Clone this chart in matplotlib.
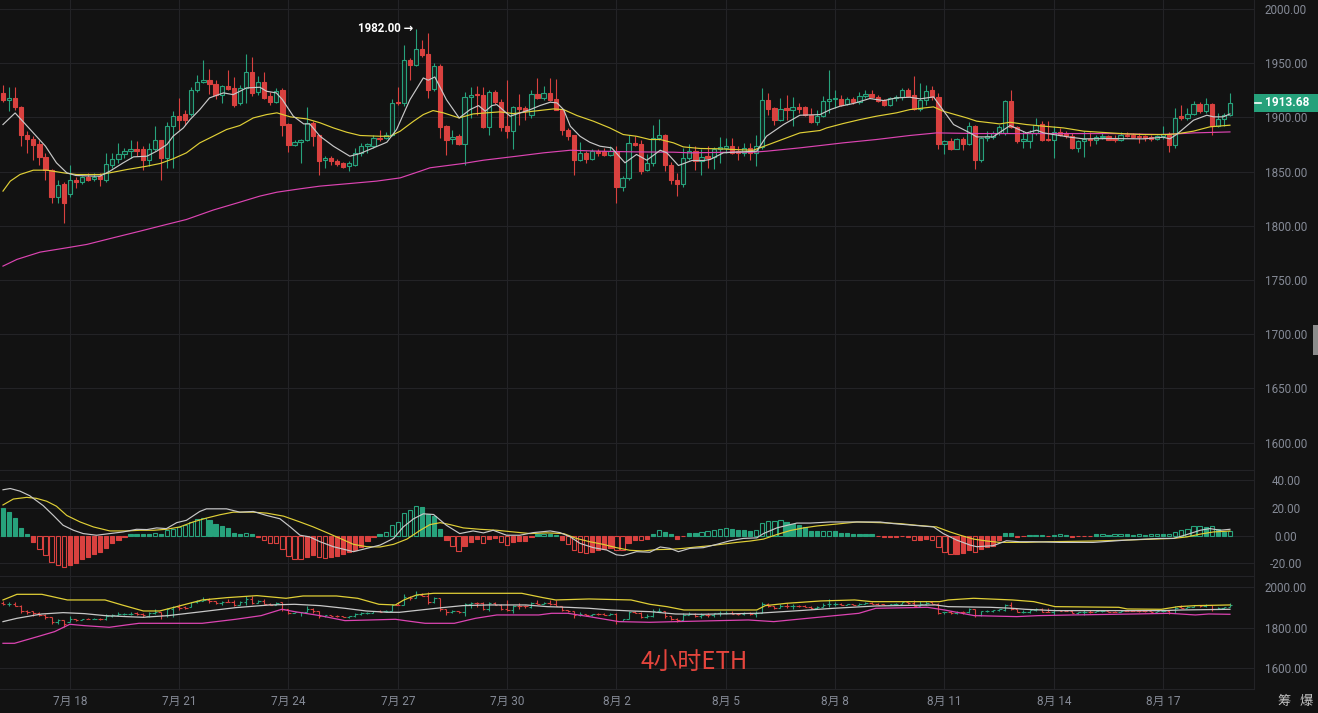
import matplotlib
matplotlib.use("Agg")
import matplotlib.pyplot as plt
import matplotlib.transforms as mtransforms
from matplotlib.patches import Rectangle
import numpy as np
import pandas as pd

plt.rcParams['font.family'] = ['Roboto', 'Noto Sans CJK SC', 'DejaVu Sans']

BG = '#121212'
HOLLOW = '#15211d'
GRID = '#232326'
UP = '#27a27c'
DOWN = '#d9413f'
TXT = '#858a96'
C_WHITE = '#c8c8c8'
C_YELLOW = '#e0cf36'
C_PINK = '#dc44b2'

# 4h ETH candles, first bar 7/16 04:00
first_bar = '2023-07-16 04:00'

opens = [
    1922.6, 1916.4, 1918.0, 1909.7, 1884.2, 1880.5, 1875.0, 1863.6, 1851.6, 1826.4,
    1838.1, 1829.5, 1842.7, 1840.3, 1845.2, 1843.3, 1845.8, 1842.7, 1856.5, 1861.8,
    1866.4, 1868.8, 1871.0, 1870.4, 1860.5, 1871.0, 1878.7, 1862.7, 1892.5, 1901.7,
    1903.2, 1903.2, 1925.7, 1933.0, 1934.9, 1931.2, 1921.0, 1929.3, 1927.2, 1913.4,
    1927.2, 1942.2, 1923.2, 1933.0, 1919.5, 1914.0, 1925.0, 1894.0, 1874.3, 1877.4,
    1879.3, 1895.0, 1883.3, 1860.5, 1862.7, 1860.2, 1858.1, 1855.0, 1856.5, 1866.7,
    1873.4, 1873.4, 1881.1, 1881.1, 1884.2, 1914.6, 1913.4, 1953.3, 1948.4, 1963.1,
    1958.8, 1926.3, 1947.8, 1891.9, 1880.2, 1882.7, 1875.6, 1918.9, 1921.7, 1921.0,
    1891.0, 1923.5, 1914.6, 1891.9, 1887.9, 1909.7, 1908.8, 1902.6, 1921.7, 1917.7,
    1922.6, 1917.4, 1907.2, 1888.8, 1883.3, 1861.1, 1867.3, 1861.8, 1868.8, 1868.8,
    1865.1, 1868.8, 1835.9, 1844.2, 1876.5, 1875.0, 1851.3, 1857.5, 1881.1, 1884.2,
    1856.5, 1842.7, 1838.1, 1862.7, 1869.4, 1859.6, 1864.2, 1863.6, 1871.3, 1871.9,
    1874.0, 1868.8, 1866.7, 1871.9, 1867.3, 1872.8, 1916.4, 1908.5, 1898.0, 1908.5,
    1906.6, 1909.7, 1909.4, 1902.6, 1895.5, 1901.1, 1915.5, 1917.1, 1917.1, 1912.8,
    1917.4, 1914.0, 1919.5, 1921.7, 1918.9, 1915.8, 1911.8, 1917.7, 1918.9, 1925.7,
    1921.0, 1907.8, 1916.4, 1925.0, 1918.9, 1875.9, 1878.0, 1871.3, 1880.2, 1875.9,
    1892.5, 1861.1, 1881.1, 1881.7, 1885.7, 1885.7, 1914.9, 1891.3, 1878.0, 1878.0,
    1885.7, 1894.3, 1880.2, 1879.0, 1886.3, 1885.1, 1882.7, 1871.9, 1878.0, 1880.2,
    1879.6, 1881.7, 1882.7, 1880.2, 1878.7, 1884.2, 1884.2, 1882.7, 1882.7, 1881.7,
    1880.2, 1882.7, 1884.8, 1874.3, 1901.7, 1899.5, 1903.2, 1912.5, 1905.7, 1912.5,
    1892.5, 1898.6, 1902.6,
]
highs = [
    1930.0, 1928.1, 1928.1, 1910.9, 1887.3, 1882.7, 1879.6, 1866.7, 1852.5, 1842.7,
    1840.3, 1855.9, 1845.2, 1845.8, 1848.9, 1848.9, 1848.9, 1867.3, 1866.7, 1876.5,
    1871.9, 1879.0, 1878.0, 1873.4, 1876.5, 1891.9, 1879.6, 1895.5, 1905.7, 1918.0,
    1907.2, 1928.1, 1939.5, 1953.3, 1944.7, 1934.3, 1930.3, 1944.1, 1937.3, 1930.3,
    1958.8, 1955.8, 1937.9, 1941.6, 1923.2, 1927.2, 1927.2, 1895.0, 1879.0, 1880.2,
    1909.4, 1896.5, 1884.2, 1864.8, 1864.2, 1861.8, 1858.7, 1859.6, 1871.9, 1876.5,
    1876.5, 1883.3, 1888.2, 1886.3, 1917.1, 1928.1, 1967.1, 1954.8, 1982.0, 1971.7,
    1977.9, 1950.2, 1949.6, 1893.4, 1888.8, 1884.8, 1923.2, 1928.1, 1928.7, 1928.1,
    1925.7, 1925.0, 1917.1, 1934.9, 1910.9, 1921.7, 1910.3, 1925.7, 1936.4, 1928.7,
    1936.4, 1935.8, 1908.8, 1890.3, 1884.2, 1877.1, 1868.8, 1870.4, 1871.0, 1871.9,
    1873.4, 1873.4, 1845.8, 1884.2, 1882.7, 1879.6, 1865.8, 1893.4, 1898.6, 1885.1,
    1858.7, 1848.9, 1871.9, 1875.9, 1873.4, 1871.0, 1873.4, 1872.8, 1881.7, 1881.1,
    1881.1, 1873.4, 1876.5, 1876.5, 1884.2, 1927.2, 1922.6, 1909.7, 1918.0, 1921.0,
    1918.9, 1913.4, 1910.9, 1908.8, 1907.2, 1920.1, 1943.5, 1925.0, 1921.0, 1918.9,
    1918.9, 1923.2, 1925.7, 1925.7, 1921.0, 1917.1, 1918.9, 1921.0, 1927.2, 1927.2,
    1937.9, 1931.8, 1930.3, 1929.3, 1922.6, 1879.6, 1881.1, 1881.1, 1881.7, 1895.5,
    1893.4, 1882.0, 1887.3, 1887.3, 1893.4, 1916.4, 1925.0, 1892.5, 1887.3, 1888.8,
    1899.5, 1896.5, 1896.5, 1891.9, 1890.3, 1887.3, 1885.7, 1879.6, 1887.3, 1886.3,
    1883.3, 1886.3, 1884.2, 1884.2, 1886.3, 1886.3, 1885.7, 1885.7, 1884.2, 1883.3,
    1884.2, 1892.5, 1886.3, 1908.8, 1911.8, 1908.8, 1914.9, 1914.0, 1918.0, 1913.4,
    1904.2, 1904.2, 1922.6,
]
lows = [
    1914.0, 1905.7, 1907.2, 1873.4, 1867.3, 1860.5, 1855.9, 1842.7, 1820.6, 1820.6,
    1802.8, 1826.4, 1835.0, 1838.1, 1841.2, 1841.2, 1836.6, 1840.3, 1853.5, 1858.1,
    1862.7, 1862.7, 1864.2, 1851.3, 1855.6, 1868.8, 1842.1, 1853.5, 1853.5, 1888.8,
    1893.4, 1901.1, 1923.2, 1931.8, 1922.0, 1917.1, 1913.4, 1925.7, 1909.7, 1911.8,
    1913.4, 1919.5, 1921.0, 1917.1, 1911.8, 1913.4, 1882.7, 1868.2, 1873.4, 1858.1,
    1878.0, 1873.4, 1846.4, 1853.5, 1856.5, 1855.0, 1853.5, 1850.4, 1855.0, 1864.2,
    1867.3, 1871.9, 1878.0, 1880.2, 1882.7, 1911.8, 1910.9, 1934.9, 1947.2, 1955.8,
    1918.0, 1924.1, 1881.1, 1865.1, 1875.0, 1874.3, 1856.5, 1899.5, 1902.6, 1890.3,
    1883.3, 1912.8, 1887.3, 1881.1, 1871.3, 1893.4, 1898.0, 1899.5, 1917.1, 1916.4,
    1914.9, 1906.6, 1883.3, 1879.6, 1847.3, 1859.6, 1857.5, 1860.5, 1864.2, 1864.2,
    1864.2, 1820.6, 1832.0, 1842.7, 1873.4, 1848.2, 1850.4, 1855.0, 1879.6, 1850.4,
    1838.1, 1827.4, 1835.9, 1861.1, 1851.3, 1847.3, 1853.5, 1852.5, 1857.5, 1867.3,
    1865.8, 1861.1, 1864.2, 1861.1, 1855.0, 1871.0, 1902.6, 1893.4, 1896.5, 1898.0,
    1891.9, 1904.2, 1901.1, 1894.9, 1893.4, 1900.5, 1904.2, 1908.8, 1910.9, 1911.8,
    1912.8, 1912.8, 1918.0, 1917.7, 1914.0, 1910.9, 1910.9, 1914.9, 1916.4, 1918.9,
    1906.6, 1905.7, 1911.8, 1916.4, 1870.4, 1865.8, 1869.7, 1870.4, 1869.7, 1874.3,
    1852.5, 1858.7, 1878.0, 1880.2, 1884.2, 1884.2, 1890.3, 1876.5, 1871.9, 1871.9,
    1884.2, 1878.0, 1878.0, 1862.7, 1882.7, 1881.1, 1871.0, 1868.2, 1863.6, 1873.4,
    1875.9, 1880.2, 1879.0, 1877.4, 1878.0, 1882.0, 1881.1, 1876.5, 1878.0, 1878.0,
    1879.6, 1880.2, 1868.2, 1871.9, 1898.0, 1897.4, 1902.6, 1904.2, 1904.2, 1884.2,
    1891.3, 1891.9, 1901.1,
]
closes = [
    1915.8, 1918.0, 1909.4, 1883.6, 1880.2, 1874.3, 1863.6, 1851.9, 1826.4, 1837.8,
    1820.6, 1842.7, 1840.3, 1844.9, 1842.7, 1844.9, 1843.6, 1857.1, 1861.8, 1866.4,
    1868.8, 1870.4, 1869.4, 1861.1, 1871.0, 1878.7, 1862.7, 1892.5, 1901.7, 1897.4,
    1897.4, 1925.7, 1933.0, 1934.9, 1930.9, 1921.0, 1929.3, 1926.3, 1911.8, 1927.2,
    1942.2, 1922.6, 1932.4, 1918.0, 1914.0, 1924.1, 1893.4, 1874.3, 1877.4, 1879.3,
    1895.0, 1882.7, 1860.2, 1862.7, 1859.6, 1857.1, 1854.4, 1857.5, 1866.7, 1874.0,
    1875.0, 1881.1, 1880.2, 1884.2, 1913.4, 1913.4, 1953.3, 1948.4, 1963.1, 1957.9,
    1925.7, 1947.8, 1891.0, 1879.6, 1882.0, 1875.6, 1918.9, 1920.7, 1920.4, 1891.0,
    1923.5, 1914.0, 1891.0, 1887.3, 1909.7, 1908.1, 1905.7, 1921.7, 1917.7, 1922.6,
    1916.4, 1907.2, 1888.2, 1882.7, 1861.1, 1867.3, 1861.8, 1868.8, 1867.3, 1865.1,
    1868.8, 1835.6, 1844.2, 1876.5, 1874.3, 1851.0, 1857.5, 1881.1, 1884.2, 1855.9,
    1842.1, 1838.1, 1862.7, 1868.8, 1859.6, 1863.6, 1862.7, 1871.3, 1872.8, 1874.0,
    1866.7, 1866.7, 1871.9, 1867.3, 1873.4, 1916.4, 1907.8, 1897.4, 1907.8, 1906.6,
    1909.7, 1907.8, 1902.6, 1895.5, 1901.1, 1914.9, 1917.1, 1918.0, 1911.8, 1917.1,
    1914.0, 1919.5, 1921.7, 1918.6, 1914.9, 1911.8, 1917.7, 1918.9, 1925.7, 1920.1,
    1907.8, 1916.4, 1924.7, 1918.9, 1875.0, 1878.0, 1871.3, 1880.2, 1875.9, 1892.5,
    1861.1, 1881.1, 1882.7, 1885.7, 1891.3, 1914.9, 1891.0, 1878.0, 1880.2, 1885.7,
    1893.4, 1879.6, 1879.0, 1886.3, 1884.2, 1882.7, 1871.9, 1878.0, 1880.2, 1879.0,
    1881.7, 1882.7, 1879.6, 1878.7, 1884.2, 1882.7, 1882.0, 1881.7, 1881.1, 1880.2,
    1882.7, 1884.8, 1874.3, 1899.5, 1899.5, 1903.2, 1912.5, 1905.7, 1912.5, 1892.5,
    1898.6, 1902.6, 1913.68,
]

# moving averages: (bar index, price)
ma_fast = [
    (0, 1893.4), (2, 1904.1), (5, 1885.7), (7, 1873.4), (8.8, 1858.1), (10.5, 1848.9),
    (12, 1846.4), (15, 1845.8), (16, 1845.8), (17.6, 1850.4), (19.8, 1858.1), (21.5, 1863.6),
    (23.7, 1864.2), (25.3, 1868.8), (27, 1875.0), (28, 1882.6), (29.7, 1890.3), (30.8, 1898.0),
    (32.4, 1907.2), (34, 1918.0), (36.3, 1922.6), (37.9, 1921.0), (40.1, 1927.2), (42.3, 1927.8),
    (43.4, 1924.1), (45, 1922.6), (46, 1916.4), (47.8, 1901.1), (49.5, 1894.0), (50.5, 1894.0),
    (52.2, 1882.6), (54.4, 1873.4), (57.1, 1864.2), (58.8, 1866.7), (61, 1871.9), (63.2, 1877.1),
    (64.8, 1888.8), (67, 1916.4), (69.2, 1936.4), (70, 1934.3), (71.1, 1937.3), (73, 1916.4),
    (75.1, 1899.5), (76.9, 1907.2), (78.3, 1910.9), (79.4, 1905.7), (80.5, 1910.9), (81.3, 1911.8),
    (83.5, 1901.1), (85.1, 1904.1), (86.8, 1907.2), (88.4, 1910.9), (90.1, 1914.0), (91.2, 1913.4),
    (92.3, 1907.2), (93.4, 1891.9), (95, 1882.6), (96.6, 1877.1), (98.3, 1873.4), (100.2, 1871.9),
    (102.4, 1858.1), (104.3, 1865.8), (106, 1860.5), (108.2, 1869.7), (109.3, 1867.3), (111.2, 1855.6),
    (113.4, 1860.2), (115.3, 1860.2), (116.4, 1861.1), (118.6, 1867.3), (120.3, 1867.9), (124.1, 1868.8),
    (125.7, 1882.6), (128.5, 1893.4), (131.2, 1902.0), (134.5, 1902.6), (136.2, 1907.2), (137.8, 1910.3),
    (140, 1912.8), (142.7, 1917.4), (145, 1915.5), (147.1, 1918.0), (149.3, 1918.6), (151, 1917.1),
    (153.2, 1918.9), (154.3, 1910.3), (156.5, 1893.4), (159.2, 1885.7), (160.3, 1882.0), (163, 1882.0),
    (165.8, 1892.5), (168.5, 1885.7), (170.2, 1888.2), (171.3, 1885.7), (175.7, 1881.7), (177.9, 1880.2),
    (182.3, 1880.5), (187.8, 1880.2), (191, 1881.7), (192.1, 1880.2), (193.2, 1884.2), (196, 1897.4),
    (198.2, 1902.0), (199.3, 1900.5), (200.9, 1900.5), (202, 1903.2),
]
ma_mid = [
    (0, 1832.0), (1.2, 1841.2), (2.8, 1847.3), (5, 1851.3), (7.2, 1851.3), (9.9, 1848.9),
    (12.1, 1847.3), (16, 1847.3), (18.2, 1849.5), (20.4, 1851.9), (23.7, 1855.0), (25.9, 1857.5),
    (28, 1861.8), (30.2, 1867.3), (32.4, 1876.5), (34.6, 1882.6), (36.8, 1888.8), (39, 1892.5),
    (41.2, 1899.5), (43.4, 1902.6), (45.1, 1904.2), (47.3, 1900.5), (50, 1898.6), (52.2, 1895.0),
    (54.4, 1890.3), (56.6, 1886.3), (58.8, 1883.3), (62.1, 1882.6), (63.7, 1882.6), (65.4, 1887.3),
    (67.6, 1896.5), (69.2, 1902.6), (70.8, 1906.3), (72.5, 1904.2), (75.1, 1899.5), (77.4, 1903.2),
    (79.6, 1904.2), (81.8, 1905.1), (84, 1903.5), (87.3, 1905.7), (90.6, 1907.8), (92.3, 1907.2),
    (94.5, 1901.7), (97.2, 1896.5), (99.9, 1890.3), (102.1, 1884.2), (104.3, 1882.6), (106.5, 1879.6),
    (108.2, 1879.6), (110.4, 1876.5), (112, 1872.8), (114.8, 1871.3), (118, 1871.0), (120.2, 1870.4),
    (123.5, 1869.7), (124.6, 1871.9), (126.8, 1876.5), (131.2, 1885.7), (134.5, 1887.9), (135.6, 1890.3),
    (138.3, 1894.3), (141.1, 1898.0), (143.8, 1901.1), (147.1, 1904.2), (149.3, 1907.2), (153.2, 1909.7),
    (154.8, 1905.7), (158.7, 1899.5), (160.3, 1896.5), (164.1, 1894.0), (165.8, 1895.5), (168.5, 1893.4),
    (171.3, 1891.9), (174.6, 1890.3), (177.9, 1887.3), (182.3, 1885.7), (185, 1884.8), (187.7, 1884.2),
    (191.6, 1884.2), (193.2, 1884.8), (196, 1887.3), (198.7, 1891.3), (202, 1892.8),
]
ma_slow = [
    (0, 1762.8), (2.3, 1769.0), (6.1, 1775.7), (10.5, 1779.7), (13.8, 1782.8), (18.2, 1789.0),
    (22.6, 1795.1), (26.9, 1801.2), (30.2, 1805.8), (34.6, 1814.5), (39, 1821.8), (42.3, 1827.4),
    (45.1, 1831.0), (48.9, 1834.1), (52.2, 1836.6), (57.1, 1839.0), (61.5, 1841.2), (65.4, 1844.2),
    (68.7, 1850.4), (70.3, 1853.5), (75.8, 1857.5), (79.1, 1860.5), (84.6, 1864.2), (89, 1867.3),
    (93.4, 1869.7), (98.3, 1868.8), (103.8, 1868.2), (110.4, 1867.9), (113.1, 1867.3), (120.2, 1867.9),
    (123.5, 1867.9), (125.7, 1868.8), (131.2, 1871.9), (134.5, 1874.0), (138.3, 1876.5), (143.8, 1879.6),
    (149.3, 1883.3), (153.7, 1885.7), (160.3, 1885.1), (171.3, 1885.1), (182.3, 1885.1), (190.5, 1884.2),
    (193.2, 1884.8), (196, 1885.7), (202, 1886.6),
]

# MACD panel
macd_hist = [
    20.0, 17.1, 12.9, 5.7, 1.0, -4.5, -9.8, -14.0, -19.5, -21.2,
    -22.6, -21.2, -20.0, -16.9, -15.5, -13.3, -12.1, -8.8, -5.7, -3.3,
    -1.4, 1.2, 1.2, 1.2, 1.2, 1.9, 1.2, 3.8, 5.0, 6.2,
    7.4, 9.8, 12.1, 12.6, 11.4, 8.6, 7.1, 5.7, 2.1, 1.2,
    2.1, 1.0, -1.2, -3.3, -5.2, -5.7, -9.8, -14.5, -16.9, -17.2,
    -15.2, -14.0, -15.5, -16.0, -15.9, -14.5, -13.6, -12.1, -10.5, -8.1,
    -4.0, -1.2, 1.2, 2.6, 7.9, 9.8, 16.4, 18.6, 21.2, 20.7,
    15.7, 13.8, 5.0, -3.3, -7.4, -11.0, -7.6, -5.0, -2.6, -5.5,
    -2.6, -2.1, -4.5, -6.9, -4.5, -4.0, -4.0, -1.2, 1.2, 1.4,
    1.2, 0.2, -3.3, -6.0, -10.5, -11.7, -12.4, -11.7, -10.5, -9.8,
    -9.3, -10.2, -10.5, -5.7, -2.9, -3.3, -2.6, 1.2, 4.0, 2.6,
    1.0, -2.4, -0.7, 1.9, 1.9, 2.6, 3.3, 4.0, 4.8, 5.5,
    5.0, 4.3, 4.3, 3.6, 3.8, 9.0, 10.5, 10.7, 10.9, 9.8,
    8.3, 7.4, 6.2, 3.6, 2.9, 3.4, 3.6, 3.5, 2.1, 2.1,
    1.4, 1.4, 1.0, 1.0, -0.5, -1.4, -1.4, -1.4, -0.7, -1.4,
    -3.3, -3.3, -2.6, -3.3, -8.1, -11.7, -13.6, -13.6, -12.6, -10.5,
    -11.7, -9.8, -8.6, -7.4, -3.3, 1.9, 1.9, -1.0, -0.5, 0.7,
    0.7, 0.7, -0.5, 0.7, 1.0, 0.7, -1.0, -0.7, -0.5, -0.5,
    0.8, 1.0, 0.7, 0.8, 1.0, 0.8, 0.7, 0.8, 0.7, 0.8,
    1.0, 1.0, 1.2, 2.6, 3.8, 5.0, 6.7, 6.9, 6.2, 6.9,
    5.0, 2.6, 3.3,
]
macd_dif = [
    (0, 33.1), (1.2, 34.0), (2.8, 32.1), (4.4, 28.8), (6.6, 21.7), (8.3, 14.5), (9.9, 7.4),
    (11.6, 3.8), (13.2, 1.4), (15.4, 0.2), (17.6, 1.4), (19.8, 2.6), (22, 4.5), (23.7, 4.3),
    (25.3, 5.5), (26.9, 5.0), (28.6, 9.3), (30.2, 11.0), (32.4, 17.4), (33.5, 19.3), (36.8, 19.3),
    (39, 16.9), (41.2, 17.4), (43.4, 14.5), (45.6, 12.1), (47.3, 6.2), (48.9, 0.2), (50.5, -1.0),
    (52.2, -4.5), (54.4, -8.1), (57.7, -11.7), (59.9, -9.3), (62.1, -6.9), (64.3, -2.1), (65.9, 6.2),
    (67.6, 12.1), (69.2, 15.7), (70.9, 15.2), (73, 7.4), (75.2, 1.4), (77.4, 3.3), (79.1, 1.9),
    (80.7, 3.8), (82.9, 0.2), (85.1, 0.2), (87.3, 2.1), (90.1, 3.3), (91.7, 2.1), (93.4, -1.0),
    (95, -5.7), (97.2, -8.8), (99.4, -10.5), (101, -14.0), (102.1, -14.5), (104.3, -11.7), (106.5, -12.1),
    (108.2, -8.3), (109.8, -9.3), (111.2, -11.7), (113.1, -9.3), (115.3, -8.8), (117.5, -6.4), (119.7, -3.8),
    (121.9, -2.1), (124.1, -1.7), (125.2, 1.4), (127.4, 5.5), (129.6, 7.9), (130.7, 9.0), (132.9, 9.0),
    (136.2, 9.8), (139.5, 9.8), (144.4, 9.8), (146.6, 8.6), (149.9, 7.4), (153.2, 6.2), (154.8, 1.4),
    (157, -3.3), (159.2, -6.9), (160.3, -8.1), (163, -7.4), (165.2, -3.8), (167.4, -4.5), (169.6, -4.5),
    (174, -5.0), (179.5, -5.0), (185, -3.3), (190.5, -2.1), (192.7, -2.1), (194.9, 0.7), (197.1, 3.8),
    (198.7, 5.0), (200.4, 3.8), (202, 4.5),
]
macd_dea = [
    (0, 22.1), (1.7, 26.4), (3.9, 27.6), (5.5, 26.9), (7.2, 24.8), (8.8, 21.2), (10.5, 14.5),
    (12.7, 9.8), (14.9, 6.2), (17.6, 3.3), (20.4, 3.3), (22.6, 3.8), (24.8, 3.8), (26.9, 4.5),
    (29.1, 6.2), (31.3, 9.8), (33.5, 12.6), (35.7, 15.0), (37.9, 16.9), (41.2, 16.9), (43.4, 16.2),
    (46.2, 14.0), (48.9, 9.8), (51.1, 6.2), (53.3, 2.1), (55.5, -2.1), (57.7, -6.4), (59.9, -8.1),
    (62.1, -8.3), (64.3, -6.4), (66.5, -2.6), (68.7, 3.8), (70.3, 7.9), (72, 9.3), (73.6, 7.9),
    (75.8, 5.5), (78.5, 4.5), (81.3, 3.8), (84, 2.6), (86.8, 1.4), (89.5, 1.9), (92.3, 1.4),
    (94.4, -2.1), (96.6, -4.5), (98.8, -6.4), (101, -8.8), (103.2, -10.7), (105.4, -11.2), (107.6, -10.2),
    (109.8, -10.0), (112, -9.3), (114.2, -8.3), (116.4, -7.4), (118.6, -6.2), (120.8, -5.0), (123, -4.0),
    (125.2, -2.6), (127.4, 0.7), (129.6, 3.6), (131.8, 5.5), (134, 6.9), (137.3, 8.3), (140.6, 9.8),
    (144.4, 9.3), (147.7, 8.6), (150.4, 7.4), (153.7, 6.2), (155.9, 2.6), (157.6, 0.2), (159.8, -2.6),
    (162, -4.0), (164.1, -5.0), (168.5, -5.0), (171.8, -4.5), (179.5, -4.0), (185, -3.3), (189.4, -2.6),
    (192.7, -2.1), (194.9, -1.0), (197.1, 1.0), (199.3, 2.6), (201.5, 3.1), (202, 3.3),
]

# channel lines of the lower price panel
band_upper = [
    (0, 1937.5), (2.3, 1965.4), (6.4, 1965.4), (10.6, 1937.5), (16.8, 1937.5), (19.6, 1912.8),
    (23.1, 1883.1), (25.8, 1883.1), (28.6, 1904.5), (32.8, 1937.5), (36.9, 1949.0), (41.8, 1958.9),
    (46.6, 1945.7), (49.4, 1957.2), (54.9, 1957.2), (58.4, 1945.7), (61.9, 1916.1), (64.6, 1912.8),
    (66, 1937.5), (68.1, 1962.1), (70.9, 1970.4), (85.4, 1970.4), (88.9, 1949.0), (91, 1937.5),
    (96.5, 1942.4), (103.4, 1937.5), (106.5, 1916.1), (109.3, 1904.5), (112.1, 1888.1), (124.1, 1888.1),
    (125.5, 1909.5), (129, 1921.0), (134.6, 1932.5), (140.2, 1937.5), (143, 1929.2), (154.2, 1929.2),
    (155.6, 1937.5), (159.8, 1945.7), (166.2, 1937.5), (169.7, 1929.2), (173.2, 1904.5), (183.7, 1901.2),
    (185.1, 1893.0), (190.7, 1891.4), (193.5, 1904.5), (196.3, 1909.5), (202, 1912.8),
]
band_mid = [
    (0, 1830.5), (2.3, 1846.9), (6.4, 1868.3), (9.9, 1874.9), (13.4, 1870.0), (16.8, 1860.1),
    (20.3, 1855.2), (23.1, 1851.9), (27.2, 1860.1), (32.8, 1879.8), (38.3, 1899.6), (43.9, 1912.8),
    (48, 1916.1), (52.2, 1909.5), (56.3, 1896.3), (59.8, 1883.1), (63.3, 1876.6), (65.3, 1876.6),
    (68.8, 1888.1), (72.3, 1899.6), (75.7, 1909.5), (79.9, 1912.8), (86.1, 1912.8), (89.6, 1904.5),
    (93, 1901.2), (96.5, 1896.3), (100, 1888.1), (103.4, 1883.1), (106.5, 1879.8), (110.7, 1868.3),
    (114.9, 1866.7), (124.1, 1871.6), (131.1, 1884.8), (136.7, 1896.3), (143.7, 1907.8), (153.5, 1912.8),
    (155.6, 1904.5), (162.6, 1901.2), (166.2, 1896.3), (168.3, 1891.4), (173.2, 1884.8), (183.7, 1884.8),
    (190.7, 1884.8), (194.2, 1888.1), (202, 1891.4),
]
band_lower = [
    (0, 1723.5), (1.9, 1723.5), (5.7, 1756.4), (8.5, 1781.1), (11, 1817.3), (13.4, 1810.7),
    (17.5, 1802.5), (20.3, 1814.0), (22.4, 1822.2), (32.8, 1822.2), (38.3, 1842.0), (42.5, 1860.1),
    (45.9, 1891.4), (48, 1879.8), (52.2, 1860.1), (56.3, 1835.4), (60.5, 1838.7), (64.6, 1842.0),
    (67.4, 1830.5), (69.5, 1822.2), (74.3, 1822.2), (77.8, 1846.9), (81.3, 1863.4), (88.2, 1863.4),
    (90.3, 1871.6), (93, 1871.6), (96.5, 1855.2), (101.4, 1830.5), (106.5, 1827.2), (110.7, 1830.5),
    (122.7, 1838.7), (126.9, 1830.5), (135.3, 1855.2), (140.9, 1871.6), (143.7, 1896.3), (152.2, 1901.2),
    (155, 1888.1), (159.9, 1860.1), (166.9, 1855.2), (170.4, 1860.1), (176, 1863.4), (186.5, 1868.3),
    (192.1, 1871.6), (196.3, 1863.4), (198.5, 1868.3), (202, 1866.7),
]

price_ticks = [1600, 1650, 1700, 1750, 1800, 1850, 1900, 1950, 2000]
macd_ticks = [-20, 0, 20, 40]
lower_ticks = [1600, 1800, 2000]
peak_label = '1982.00'
last_label = '1913.68'
watermark = '4小时ETH'

o, h, l, c = map(np.array, (opens, highs, lows, closes))
x = np.arange(len(c))
times = pd.date_range(first_bar, periods=len(c), freq='4h')
day0 = pd.Timestamp('2023-07-18')
tick_idx = [i for i, t in enumerate(times) if t.hour == 0 and (t - day0).days % 3 == 0]
tick_lbl = [f"{times[i].month}月 {times[i].day}" for i in tick_idx]

up = c >= o
col = np.where(up, UP, DOWN)

W, H = 1318, 713
fig = plt.figure(figsize=(W / 100, H / 100), dpi=100, facecolor=BG)


def box(top, bottom):
    return [0, 1 - bottom / H, 1254 / W, (bottom - top) / H]


ax1 = fig.add_axes(box(0, 470))
ax2 = fig.add_axes(box(470, 576), sharex=ax1)
ax3 = fig.add_axes(box(576, 689), sharex=ax1)

for ax in (ax1, ax2, ax3):
    ax.set_facecolor(BG)
    ax.grid(True, color=GRID, lw=0.8)
    ax.set_axisbelow(True)
    for s in ax.spines.values():
        s.set_color(GRID)
    ax.spines['left'].set_visible(False)
    ax.yaxis.tick_right()
    ax.tick_params(axis='y', length=0, pad=23, labelcolor=TXT, labelsize=8.4)
    ax.tick_params(axis='x', length=0)
ax1.spines['top'].set_visible(False)

# main candles
ax1.vlines(x, l, h, colors=col, lw=0.8, zorder=2)
body_lo = np.minimum(o, c)
body_h = np.maximum(np.abs(c - o), 0.9)
ax1.bar(x[up], body_h[up], 0.7, bottom=body_lo[up], facecolor=HOLLOW, edgecolor=UP, lw=0.8, zorder=3)
ax1.bar(x[~up], body_h[~up], 0.7, bottom=body_lo[~up], facecolor=DOWN, edgecolor=DOWN, lw=0.8, zorder=3)
for pts, cc in ((ma_slow, C_PINK), (ma_mid, C_YELLOW), (ma_fast, C_WHITE)):
    t, v = zip(*pts)
    ax1.plot(t, v, color=cc, lw=0.85, zorder=4)

ax1.set_xlim(-0.49, 205.96)
ax1.set_ylim(1574.7, 2008.3)
ax1.set_yticks(price_ticks)
ax1.set_yticklabels([f"{v:.2f}" for v in price_ticks])

imax = int(np.argmax(h))
ax1.text(imax - 0.4, h[imax], peak_label + ' →', ha='right', va='center', color='white',
         fontsize=8.3, fontweight='bold', family=['Roboto', 'DejaVu Sans'], zorder=6)

# last price tag
tr = mtransforms.blended_transform_factory(fig.transFigure, ax1.transData)
ax1.add_patch(Rectangle((1254 / W, c[-1] - 8.3), 64 / W, 16.6, transform=tr,
                        facecolor='#26a17b', edgecolor='none', clip_on=False, zorder=6))
ax1.plot([1255 / W, 1261 / W], [c[-1], c[-1]], color='white', lw=1.2, transform=tr,
         clip_on=False, zorder=7)
ax1.text(1287 / W, c[-1], last_label, transform=tr, ha='center', va='center', color='white',
         fontsize=8.6, fontweight='bold', clip_on=False, zorder=7)

# MACD
hist = np.array(macd_hist)
grow = np.r_[False, (np.abs(hist[1:]) > np.abs(hist[:-1])) & (np.sign(hist[1:]) == np.sign(hist[:-1]))]
hcol = np.where(hist >= 0, UP, DOWN)
face = np.where(grow, BG, hcol)
ax2.bar(x, hist, 0.7, facecolor=list(face), edgecolor=list(hcol), lw=0.8, zorder=2)
for pts, cc in ((macd_dea, C_YELLOW), (macd_dif, C_WHITE)):
    t, v = zip(*pts)
    ax2.plot(t, v, color=cc, lw=0.85, zorder=3)
ax2.set_ylim(-29.3, 47.4)
ax2.set_yticks(macd_ticks)
ax2.set_yticklabels([f"{v:.2f}" for v in macd_ticks])

# lower price panel
ax3.vlines(x, l, h, colors=col, lw=0.8, zorder=2)
ax3.hlines(o, x - 0.4, x, colors=col, lw=0.8, zorder=2)
ax3.hlines(c, x, x + 0.4, colors=col, lw=0.8, zorder=2)
for pts, cc in ((band_lower, C_PINK), (band_mid, C_WHITE), (band_upper, C_YELLOW)):
    t, v = zip(*pts)
    ax3.plot(t, v, color=cc, lw=0.9, zorder=3)
ax3.set_ylim(1497.8, 2055.8)
ax3.set_yticks(lower_ticks)
ax3.set_yticklabels([f"{v:.2f}" for v in lower_ticks])

ax3.set_xticks(tick_idx)
ax3.set_xticklabels(tick_lbl)
ax3.tick_params(axis='x', pad=4, labelcolor=TXT, labelsize=8.5)
ax1.tick_params(axis='x', labelbottom=False)
ax2.tick_params(axis='x', labelbottom=False)

for ax in (ax1, ax2, ax3):
    for lab in ax.get_yticklabels():
        lab.set_horizontalalignment('center')

fig.text(694 / W, 1 - 662 / H, watermark, ha='center', va='center', color='#e5453d',
         fontsize=17.3, family=['Noto Sans CJK SC', 'DejaVu Sans'])
fig.text(1284 / W, 1 - 701 / H, '筹', ha='center', va='center', color='#c4c4c4',
         fontsize=9.5, family=['Noto Sans CJK SC'])
fig.text(1306 / W, 1 - 701 / H, '爆', ha='center', va='center', color='#c4c4c4',
         fontsize=9.5, family=['Noto Sans CJK SC'])
fig.patches.append(Rectangle((1313 / W, 1 - 355 / H), 5 / W, 30 / H, transform=fig.transFigure,
                             facecolor='#8c8c8c', edgecolor='none'))

fig.savefig('out.png', dpi=100, facecolor=BG)
